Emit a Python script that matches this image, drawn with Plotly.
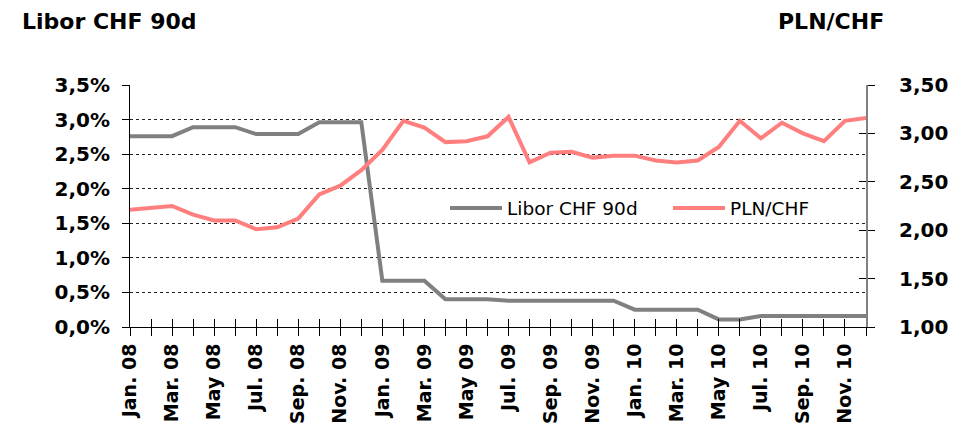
import plotly.graph_objects as go

# Monthly observations, Jan 2008 - Dec 2010
months = [f"{m} {y}" for y in ("08", "09", "10")
          for m in ("Jan.", "Feb.", "Mar.", "Apr.", "May", "Jun.",
                    "Jul.", "Aug.", "Sep.", "Oct.", "Nov.", "Dec.")]
tick_labels = [lab if i % 2 == 0 else "" for i, lab in enumerate(months)]

libor_chf_90d = [2.76, 2.76, 2.76, 2.89, 2.89, 2.89, 2.79, 2.79, 2.79, 2.96, 2.96, 2.96,
                 0.67, 0.67, 0.67, 0.40, 0.40, 0.40, 0.38, 0.38, 0.38, 0.38, 0.38, 0.38,
                 0.25, 0.25, 0.25, 0.25, 0.11, 0.11, 0.16, 0.16, 0.17, 0.16, 0.16, 0.16]

pln_chf = [2.21, 2.23, 2.25, 2.16, 2.10, 2.10, 2.01, 2.03, 2.12, 2.37, 2.46, 2.62,
           2.83, 3.13, 3.06, 2.91, 2.92, 2.97, 3.17, 2.70, 2.80, 2.81, 2.75, 2.77,
           2.77, 2.72, 2.70, 2.72, 2.86, 3.13, 2.95, 3.11, 3.00, 2.92, 3.13, 3.16]

left_ticks = [0, 0.5, 1.0, 1.5, 2.0, 2.5, 3.0, 3.5]
left_labels = ["0,0%", "0,5%", "1,0%", "1,5%", "2,0%", "2,5%", "3,0%", "3,5%"]
right_ticks = [1.0, 1.5, 2.0, 2.5, 3.0, 3.5]
right_labels = ["1,00", "1,50", "2,00", "2,50", "3,00", "3,50"]

FONT = "DejaVu Sans, sans-serif"
idx = list(range(len(months)))

fig = go.Figure()
fig.add_trace(go.Scatter(x=idx, y=libor_chf_90d, name="Libor CHF 90d", mode="lines",
                         line=dict(color="#808080", width=4), yaxis="y", legend="legend"))
fig.add_trace(go.Scatter(x=idx, y=pln_chf, name="PLN/CHF", mode="lines",
                         line=dict(color="#FF7F7F", width=4), yaxis="y2", legend="legend2"))

# invisible helpers that switch on the overlay axes carrying the inner half of cross ticks
fig.add_trace(go.Scatter(x=[0], y=[0], xaxis="x2", yaxis="y", mode="lines",
                         showlegend=False, hoverinfo="skip", line=dict(width=0)))
fig.add_trace(go.Scatter(x=[0], y=[1], xaxis="x", yaxis="y3", mode="lines",
                         showlegend=False, hoverinfo="skip", line=dict(width=0)))

legend_style = dict(orientation="h", y=0.49, xanchor="left", yanchor="middle",
                    bgcolor="rgba(0,0,0,0)", font=dict(size=18.5, family=FONT),
                    itemwidth=52)

fig.update_layout(
    width=958, height=426,
    margin=dict(l=130, r=92, t=85, b=99),
    paper_bgcolor="white", plot_bgcolor="white",
    font=dict(family=FONT, color="black"),
    showlegend=True,
    legend=dict(x=0.428, **legend_style),
    legend2=dict(x=0.731, **legend_style),
    xaxis=dict(range=[0, 35], tickmode="array", tickvals=idx, ticktext=tick_labels,
               tickangle=-90, ticks="outside", ticklen=8, tickcolor="black",
               showline=True, linecolor="black", linewidth=1, showgrid=False,
               zeroline=False, automargin=False,
               tickfont=dict(size=19, family=FONT, weight="bold")),
    xaxis2=dict(range=[0, 35], overlaying="x", anchor="y", side="bottom",
                tickmode="array", tickvals=idx, ticktext=[""] * len(idx),
                ticks="inside", ticklen=8, tickcolor="black", showline=False,
                showgrid=False, zeroline=False, showticklabels=False, automargin=False),
    yaxis=dict(range=[0, 3.5], tickmode="array", tickvals=left_ticks, ticktext=left_labels,
               ticks="outside", ticklen=7, tickcolor="black", ticklabelstandoff=8,
               showline=True, linecolor="black", linewidth=1, automargin=False,
               showgrid=True, gridcolor="#222222", gridwidth=1, griddash="dot",
               zeroline=False, tickfont=dict(size=20, family=FONT, weight="bold")),
    yaxis2=dict(range=[1.0, 3.5], overlaying="y", side="right", tickmode="array",
                tickvals=right_ticks, ticktext=right_labels,
                ticks="outside", ticklen=7, tickcolor="black", ticklabelstandoff=20,
                showline=True, linecolor="#808080", linewidth=2, automargin=False,
                showgrid=False, zeroline=False,
                tickfont=dict(size=20, family=FONT, weight="bold")),
    yaxis3=dict(range=[1.0, 3.5], overlaying="y", side="right", anchor="x",
                tickmode="array", tickvals=right_ticks, ticktext=[""] * len(right_ticks),
                ticks="inside", ticklen=7, tickcolor="black", showline=False,
                showgrid=False, zeroline=False, showticklabels=False, automargin=False),
    annotations=[
        dict(text="<b>Libor CHF 90d</b>", xref="paper", yref="paper",
             x=(20 - 130) / 736, y=(327 - 21) / 242, xanchor="left", yanchor="middle",
             showarrow=False, font=dict(size=22, family=FONT)),
        dict(text="<b>PLN/CHF</b>", xref="paper", yref="paper",
             x=(886 - 130) / 736, y=(327 - 21) / 242, xanchor="right", yanchor="middle",
             showarrow=False, font=dict(size=22, family=FONT)),
    ],
)

fig.write_html("out.html")
